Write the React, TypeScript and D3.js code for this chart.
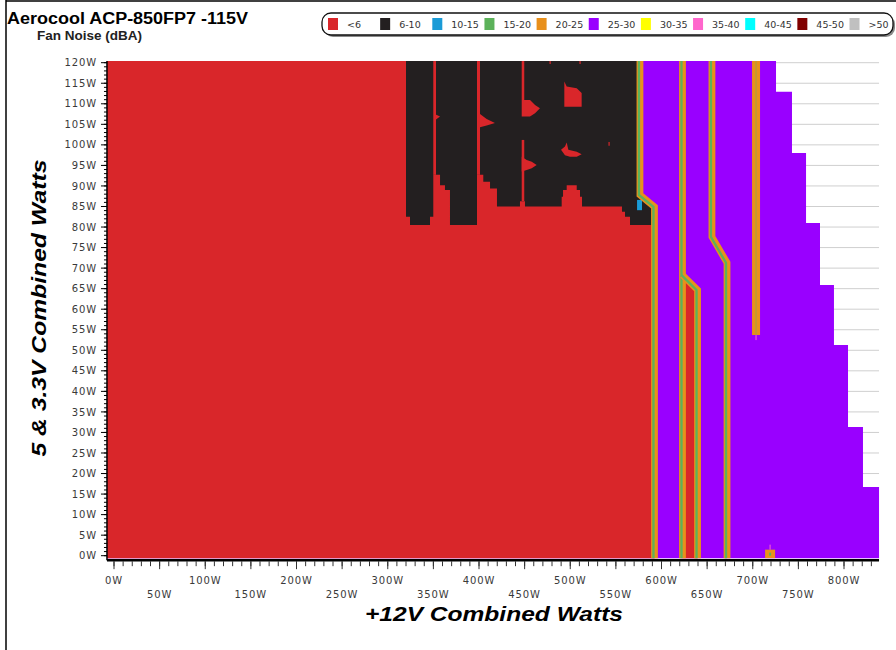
import React from "react";
import * as d3 from "d3";

// ---------- data ----------
const noiseBins = ["<6", "6-10", "10-15", "15-20", "20-25", "25-30", "30-35", "35-40", "40-45", "45-50", ">50"];
const binColors = ["#d9262a", "#231f20", "#1a9bd7", "#5cb25a", "#e8901c", "#9900ff", "#ffff00", "#ff66cc", "#00ffff", "#800000", "#c0c0c0"];

const xTickLabels = [0, 50, 100, 150, 200, 250, 300, 350, 400, 450, 500, 550, 600, 650, 700, 750, 800];
const yTickLabels = [0, 5, 10, 15, 20, 25, 30, 35, 40, 45, 50, 55, 60, 65, 70, 75, 80, 85, 90, 95, 100, 105, 110, 115, 120];

// measured range of the test grid (W)
const plotX = [-7.7, 838.4];
const plotY = [-0.6, 120.4];

// max-load staircase: top of each 5V/3.3V band and the max +12V load reached in it
const maxLoadTopY = [16.7, 31.3, 51.3, 65.9, 81.0, 98.0, 112.9, 120.4];
const maxLoad12V = [838.4, 820.8, 804.4, 789.0, 773.7, 758.4, 743.0, 725.5];

// contour lines (boundaries between <6 and 25-30 regions) [+12V W, 5&3.3V W]
const contour1 = [[576.4, 120.4], [576.4, 87.8], [592.3, 84.9], [592.3, -0.6]];
const contour2 = [[623, 120.4], [623, -0.6]];
const contour2b = [[623, 68.3], [639.5, 64.7], [639.5, -0.6]];
const contour3 = [[655.3, 120.4], [655.3, 77.6], [671.8, 71.3], [671.8, -0.6]];
const contour4 = [[703.6, 120.4], [703.6, 53.7]];

// 6-10 dBA region outline
const blackRegion = [
  [320.0, 120.4], [576.4, 120.4], [576.4, 87.8], [592.3, 84.9], [592.3, 80.5],
  [565.5, 80.5], [565.5, 82.5], [560.0, 82.5], [560.0, 83.7], [556.7, 83.7], [556.7, 85.0],
  [512.9, 85.0], [512.9, 87.4], [510.7, 87.4], [510.7, 89.0], [507.1, 89.0], [507.1, 90.2],
  [496.1, 90.2], [496.1, 89.0], [492.1, 89.0], [492.1, 87.4], [490.6, 87.4], [490.6, 85.0],
  [450.4, 85.0], [450.4, 86.3], [444.9, 86.3], [444.9, 85.0], [419.7, 85.0], [419.7, 89.4],
  [412.1, 89.4], [412.1, 91.0], [404.7, 91.0], [404.7, 92.7], [397.8, 92.7], [397.8, 80.5],
  [368.2, 80.5], [368.2, 89.0], [362.7, 89.0], [362.7, 90.2], [357.3, 90.2], [357.3, 92.7],
  [349.9, 92.7], [349.9, 82.5], [346.3, 82.5], [346.3, 80.5], [324.4, 80.5], [324.4, 82.5],
  [320.0, 82.5],
];

// <6 dBA islands inside the 6-10 region
const redIslands = [
  [[349.9, 120.4], [352.9, 120.4], [352.9, 92.7], [349.9, 92.7]],
  [[397.8, 120.4], [401.1, 120.4], [401.1, 92.7], [397.8, 92.7]],
  [[446.8, 120.4], [449.6, 120.4], [449.6, 110.9], [446.8, 110.9]],
  [[446.8, 101.2], [449.6, 101.2], [449.6, 86.3], [446.8, 86.3]],
  [[446.8, 110.9], [455.9, 110.9], [461.4, 109.7], [466.8, 108.9], [461.4, 107.7], [455.9, 106.9], [446.8, 106.9]],
  [[493.5, 115.4], [496.1, 114.2], [507.1, 113.8], [512.5, 112.6], [512.5, 109.3], [493.5, 109.3]],
  [[489.9, 98.8], [494.2, 99.6], [496.1, 100.6], [497.9, 98.8], [507.1, 98.3], [512.5, 97.7], [507.1, 97.1], [499.7, 97.1], [494.2, 97.5]],
  [[446.8, 97.1], [452.3, 96.3], [457.8, 95.9], [463.2, 95.1], [457.8, 94.3], [452.3, 93.9], [446.8, 93.5]],
  [[401.1, 107.5], [408.4, 106.3], [417.5, 105.3], [408.4, 104.7], [401.1, 104.3]],
  [[352.5, 107.4], [357.3, 106.9], [352.5, 106.1]],
  [[541.9, 100.7], [543.2, 100.7], [543.2, 99.8], [541.9, 99.8]],
  [[477.3, 120.4], [478.6, 120.4], [478.6, 119.7], [477.3, 119.7]],
  [[510.1, 120.4], [511.4, 120.4], [511.4, 119.7], [510.1, 119.7]],
];

// 10-15 dBA cell at the first contour's kink
const blueCells = [[[573.2, 86.6], [578.6, 86.6], [578.6, 84.1], [573.2, 84.1]]];

// isolated 20-25 dBA reading at low 5V load
const hotSpots = [[719, 0.5]];

export default function App() {
  const x = d3.scaleLinear().domain([0, 800]).range([114, 844]);
  const y = d3.scaleLinear().domain([0, 120]).range([555.7, 62.7]);
  const [x0, x1] = plotX;
  const [y0, y1] = plotY;
  const line = d3.line<number[]>().x((d) => x(d[0])).y((d) => y(d[1]));
  const poly = (pts: number[][]) => line(pts) + "Z";

  const stair: number[][] = [[x0, y0]];
  let prev = y0;
  maxLoadTopY.forEach((top, i) => {
    stair.push([maxLoad12V[i], prev]);
    stair.push([maxLoad12V[i], top]);
    prev = top;
  });
  stair.push([x0, y1]);

  const redMain = [[x0, y0], [x0, y1], ...contour1];
  const redPocket = [[contour2b[0][0], y0], ...contour2b];

  const contours = [contour1, contour2, contour2b, contour3];

  const minorY = d3.range(0, 121, 1);
  const minorX = d3.range(0, 840, 10);

  const tickFont = { fontFamily: "DejaVu Sans, Verdana, sans-serif", fontSize: 10, fill: "#3a3a3a", letterSpacing: 0.9 };
  const titleFont = "Liberation Sans, Arial, sans-serif";

  const L = x(x0), R = x(x1), T = y(y1), B = y(y0);

  return (
    <svg width={896} height={650} style={{ position: "absolute", left: 0, top: 0, background: "#fff" }}>
      <rect x={0} y={0} width={896} height={650} fill="#fff" />
      {/* frame */}
      <line x1={6} y1={0} x2={6} y2={650} stroke="#000" strokeWidth={1.5} />
      <line x1={6} y1={1} x2={896} y2={1} stroke="#000" strokeWidth={1.5} />

      {/* titles */}
      <text x={7} y={24} fontFamily={titleFont} fontWeight="bold" fontSize={16} textLength={241} lengthAdjust="spacingAndGlyphs" fill="#000">Aerocool ACP-850FP7 -115V</text>
      <text x={37} y={40} fontFamily={titleFont} fontWeight="bold" fontSize={12} textLength={105} lengthAdjust="spacingAndGlyphs" fill="#222">Fan Noise (dBA)</text>

      {/* legend */}
      <rect x={324} y={15} width={571} height={22} rx={9} fill="#8a8a8a" />
      <rect x={322} y={13} width={571} height={22} rx={9} fill="#fff" stroke="#111" strokeWidth={1.3} />
      {noiseBins.map((b, i) => {
        const lx = 328 + i * 52.15;
        return (
          <g key={b}>
            <rect x={lx} y={18} width={10} height={12} fill={binColors[i]} />
            <text x={lx + 19} y={28} fontFamily="DejaVu Sans, sans-serif" fontSize={9.5} fill="#333">{b}</text>
          </g>
        );
      })}

      {/* gridlines */}
      {yTickLabels.map((v) => (
        <line key={"g" + v} x1={L} x2={R} y1={y(v)} y2={y(v)} stroke="#cfcfcf" strokeWidth={1} />
      ))}

      {/* heat map regions */}
      <path d={poly(stair)} fill={binColors[5]} />
      <path d={poly(redMain)} fill={binColors[0]} />
      <path d={poly(redPocket)} fill={binColors[0]} />
      <path d={poly(blackRegion)} fill={binColors[1]} />
      {redIslands.map((p, i) => (
        <path key={"ri" + i} d={poly(p)} fill={binColors[0]} />
      ))}
      {blueCells.map((p, i) => (
        <path key={"bc" + i} d={poly(p)} fill={binColors[2]} />
      ))}

      {/* contour bands */}
      {contours.map((c, i) => (
        <g key={"c" + i}>
          <path d={line(c) || ""} fill="none" stroke={binColors[4]} strokeWidth={6.8} strokeLinejoin="miter" />
          <path d={line(c) || ""} fill="none" stroke={binColors[3]} strokeWidth={2.3} transform="translate(-1,0)" />
        </g>
      ))}
      <path d={line(contour4) || ""} fill="none" stroke={binColors[4]} strokeWidth={8} />
      <path d={line(contour4) || ""} fill="none" stroke="#b39a3a" strokeWidth={1.2} />
      <line x1={x(contour4[1][0])} x2={x(contour4[1][0])} y1={y(contour4[1][1])} y2={y(contour4[1][1]) + 5} stroke={binColors[7]} strokeWidth={1} />
      {hotSpots.map((h, i) => (
        <g key={"h" + i}>
          <rect x={x(h[0]) - 5} y={y(h[1]) - 4} width={10} height={B - y(h[1]) + 4} fill={binColors[4]} />
          <rect x={x(h[0]) - 1} y={y(h[1]) - 1} width={2} height={3} fill={binColors[3]} />
          <line x1={x(h[0])} x2={x(h[0])} y1={y(h[1]) - 9} y2={y(h[1]) - 4} stroke={binColors[7]} strokeWidth={1} />
        </g>
      ))}

      {/* left axis */}
      <line x1={L} x2={L} y1={T} y2={B + 2} stroke="#000" strokeWidth={1.5} />
      {minorY.map((v) => (
        <line key={"my" + v} x1={L - 3} x2={L} y1={y(v)} y2={y(v)} stroke="#000" strokeWidth={1} />
      ))}
      {yTickLabels.map((v) => (
        <g key={"yt" + v}>
          <line x1={L - 6} x2={L} y1={y(v)} y2={y(v)} stroke="#000" strokeWidth={1} />
          <text x={97} y={y(v) + 3.6} textAnchor="end" {...tickFont}>{v + "W"}</text>
        </g>
      ))}

      {/* bottom axis */}
      <line x1={L} x2={R} y1={B + 2} y2={B + 2} stroke="#000" strokeWidth={2.5} />
      {minorX.map((v) => (
        <line key={"mx" + v} x1={x(v)} x2={x(v)} y1={B + 3} y2={B + 8} stroke="#333" strokeWidth={1} />
      ))}
      {xTickLabels.map((v, i) => (
        <g key={"xt" + v}>
          <line x1={x(v)} x2={x(v)} y1={B + 3} y2={B + 11} stroke="#333" strokeWidth={1} />
          <text x={x(v)} y={i % 2 === 0 ? 584 : 598} textAnchor="middle" {...tickFont}>{v + "W"}</text>
        </g>
      ))}

      {/* axis titles */}
      <text x={494} y={621} textAnchor="middle" fontFamily={titleFont} fontWeight="bold" fontStyle="italic" fontSize={21} textLength={258} lengthAdjust="spacingAndGlyphs" fill="#000">+12V Combined Watts</text>
      <text transform="translate(46,308) rotate(-90)" textAnchor="middle" fontFamily={titleFont} fontWeight="bold" fontStyle="italic" fontSize={21} textLength={297} lengthAdjust="spacingAndGlyphs" fill="#000">5 &amp; 3.3V Combined Watts</text>
    </svg>
  );
}
